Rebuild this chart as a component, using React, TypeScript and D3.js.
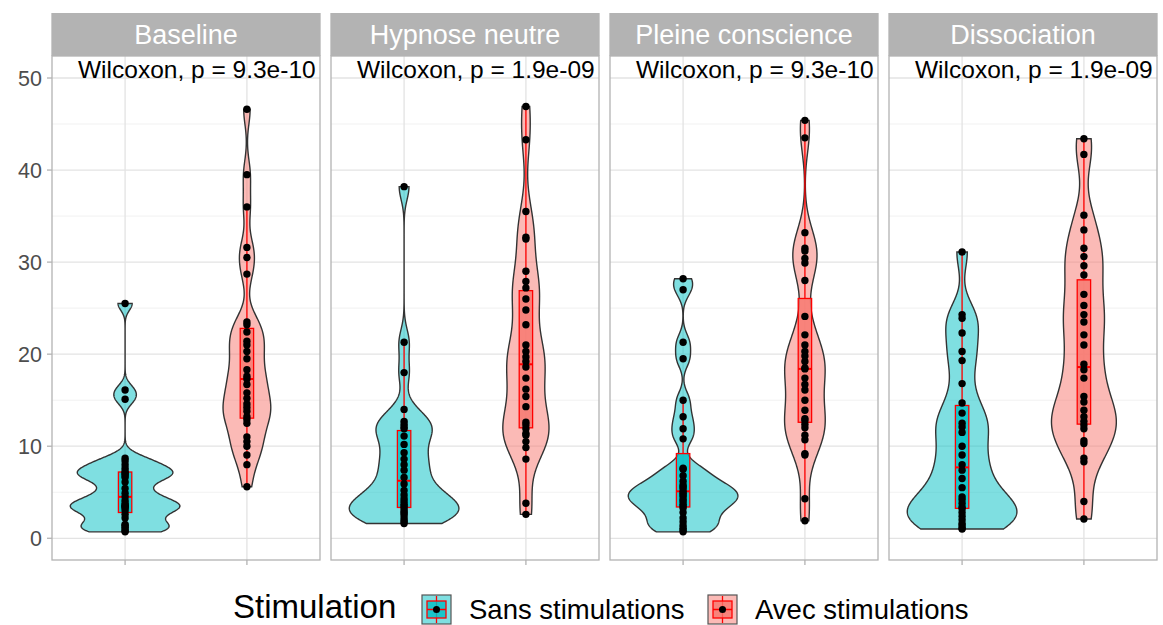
import React from "react";
import * as d3 from "d3";

const facets = ["Baseline", "Hypnose neutre", "Pleine conscience", "Dissociation"];
const groups = ["Sans stimulations", "Avec stimulations"];
const groupColors = ["#00BFC4", "#F8766D"];
const pLabels = [
  "Wilcoxon, p = 9.3e-10",
  "Wilcoxon, p = 1.9e-09",
  "Wilcoxon, p = 9.3e-10",
  "Wilcoxon, p = 1.9e-09",
];
const yTicks = [0, 10, 20, 30, 40, 50];
const yMinor = [5, 15, 25, 35, 45];
const legendTitle = "Stimulation";

const baselineSans = [0.7, 0.8, 1.0, 1.2, 1.4, 1.5, 2.2, 2.6, 3.0, 3.3, 3.4, 3.5, 3.6, 3.8, 4.1, 4.5, 4.9, 5.4, 6.1, 6.6, 6.8, 7.0, 7.1, 7.3, 7.6, 8.0, 8.4, 8.7, 15.1, 16.1, 25.5];
const baselineAvec = [5.6, 8.0, 9.05, 10.0, 10.5, 11.0, 12.5, 12.9, 13.2, 13.8, 14.2, 14.6, 15.2, 15.8, 16.7, 17.3, 17.6, 18.3, 19.5, 20.3, 21.0, 21.4, 22.4, 23.2, 23.5, 28.7, 30.5, 31.6, 36.0, 39.5, 46.6];
const hypnoseSans = [1.6, 1.8, 2.0, 2.3, 2.6, 2.8, 3.0, 3.3, 3.5, 3.7, 4.0, 4.3, 4.7, 5.2, 5.9, 6.6, 7.4, 8.0, 8.6, 9.3, 10.2, 11.1, 11.9, 12.1, 12.4, 12.7, 14.0, 18.0, 21.3, 38.2];
const hypnoseAvec = [2.6, 3.8, 8.6, 9.85, 10.5, 11.2, 11.4, 11.9, 12.3, 12.6, 14.3, 15.4, 16.2, 17.4, 18.6, 19.2, 19.7, 20.3, 21.0, 23.2, 24.8, 26.0, 27.2, 27.9, 29.0, 32.5, 32.7, 35.5, 43.3, 46.9];
const pleineSans = [0.7, 0.9, 1.1, 1.4, 1.8, 2.2, 2.8, 3.3, 3.5, 3.7, 4.0, 4.2, 4.5, 4.7, 4.9, 5.1, 5.4, 5.6, 5.8, 6.2, 6.8, 7.5, 7.6, 10.8, 11.9, 13.2, 15.0, 19.5, 21.3, 27.0, 28.2];
const pleineAvec = [1.9, 4.3, 9.05, 9.2, 10.7, 11.2, 12.0, 12.4, 12.8, 13.0, 13.9, 15.0, 16.1, 16.7, 17.4, 18.4, 18.5, 19.2, 19.8, 20.3, 21.0, 22.1, 24.1, 28.0, 29.9, 30.4, 31.2, 31.5, 33.2, 43.5, 45.4];
const dissocSans = [1.0, 1.1, 1.4, 1.6, 2.0, 2.4, 2.8, 3.2, 3.4, 3.8, 4.2, 4.5, 5.5, 6.5, 7.4, 8.0, 9.05, 10.0, 11.5, 12.1, 12.5, 13.6, 14.7, 16.8, 19.3, 20.3, 22.3, 23.9, 24.3, 31.1];
const dissocAvec = [2.1, 4.0, 8.3, 8.7, 10.3, 10.6, 11.9, 12.3, 12.7, 13.2, 13.9, 14.8, 15.4, 17.4, 18.3, 18.9, 21.0, 22.1, 23.5, 24.3, 25.3, 26.5, 28.6, 29.6, 30.6, 31.5, 33.5, 35.1, 41.7, 43.4];

const facetData = [
  [baselineSans, baselineAvec],
  [hypnoseSans, hypnoseAvec],
  [pleineSans, pleineAvec],
  [dissocSans, dissocAvec],
];

const FONT = "'Liberation Sans', Arial, Helvetica, sans-serif";
const BW_ADJUST = 0.5;

function kde(values: number[], n = 512) {
  const s = values.slice().sort(d3.ascending);
  const sd = d3.deviation(s) as number;
  const iqr = (d3.quantileSorted(s, 0.75) as number) - (d3.quantileSorted(s, 0.25) as number);
  const lo = Math.min(sd, iqr / 1.34);
  const bw = BW_ADJUST * 0.9 * lo * Math.pow(s.length, -0.2);
  const min = s[0];
  const max = s[s.length - 1];
  const k = 1 / (s.length * bw * Math.sqrt(2 * Math.PI));
  return d3.range(n).map((i) => {
    const t = min + ((max - min) * i) / (n - 1);
    let d = 0;
    for (const v of s) {
      const z = (t - v) / bw;
      d += Math.exp(-0.5 * z * z);
    }
    return [t, d * k] as [number, number];
  });
}

function boxStats(values: number[]) {
  const s = values.slice().sort(d3.ascending);
  const q1 = d3.quantileSorted(s, 0.25) as number;
  const med = d3.quantileSorted(s, 0.5) as number;
  const q3 = d3.quantileSorted(s, 0.75) as number;
  const iqr = q3 - q1;
  const lowW = d3.min(s.filter((v) => v >= q1 - 1.5 * iqr)) as number;
  const highW = d3.max(s.filter((v) => v <= q3 + 1.5 * iqr)) as number;
  return { q1, med, q3, lowW, highW };
}

export default function App() {
  const W = 1163;
  const H = 625;
  const stripTop = 13;
  const panelTop = 56;
  const panelBottom = 560;
  const firstLeft = 52;
  const panelW = 268;
  const panelGap = 11;

  const y = d3.scaleLinear().domain([-2.36, 52.39]).range([panelBottom, panelTop]);

  const panels = facets.map((name, fi) => {
    const left = firstLeft + fi * (panelW + panelGap);
    const x = d3.scalePoint<string>().domain(groups).range([left, left + panelW]).padding(0.6);
    const unit = x.step();
    const dens = facetData[fi].map((vals) => kde(vals));
    const maxD = d3.max(dens.flat(), (d) => d[1]) as number;
    return { name, fi, left, x, unit, dens, maxD };
  });

  return (
    <svg
      width={W}
      height={H}
      style={{ position: "absolute", left: 0, top: 0, background: "#fff" }}
      fontFamily={FONT}
    >
      <rect x={0} y={0} width={W} height={H} fill="#fff" />
      {panels.map((p) => {
        const { name, fi, left, x, unit, dens, maxD } = p;
        const halfMax = 0.45 * unit;
        const boxHalf = 0.055 * unit;
        return (
          <g key={name}>
            {yMinor.map((t) => (
              <line key={"mn" + t} x1={left} x2={left + panelW} y1={y(t)} y2={y(t)} stroke="#EDEDED" strokeWidth={0.8} />
            ))}
            {yTicks.map((t) => (
              <line key={"mj" + t} x1={left} x2={left + panelW} y1={y(t)} y2={y(t)} stroke="#E3E3E3" strokeWidth={1.3} />
            ))}
            {groups.map((g) => (
              <line key={"vx" + g} x1={x(g)} x2={x(g)} y1={panelTop} y2={panelBottom} stroke="#E3E3E3" strokeWidth={1.3} />
            ))}
            {groups.map((g, gi) => {
              const cx = x(g) as number;
              const area = d3
                .area<[number, number]>()
                .x0((d) => cx - (d[1] / maxD) * halfMax)
                .x1((d) => cx + (d[1] / maxD) * halfMax)
                .y((d) => y(d[0]));
              return (
                <path
                  key={"v" + g}
                  d={area(dens[gi]) as string}
                  fill={groupColors[gi]}
                  fillOpacity={0.5}
                  stroke="#333333"
                  strokeWidth={1.4}
                />
              );
            })}
            {groups.map((g, gi) => {
              const cx = x(g) as number;
              const b = boxStats(facetData[fi][gi]);
              return (
                <g key={"b" + g}>
                  <line x1={cx} x2={cx} y1={y(b.q3)} y2={y(b.highW)} stroke="#FF0000" strokeWidth={1.3} />
                  <line x1={cx} x2={cx} y1={y(b.q1)} y2={y(b.lowW)} stroke="#FF0000" strokeWidth={1.3} />
                  <rect
                    x={cx - boxHalf}
                    y={y(b.q3)}
                    width={2 * boxHalf}
                    height={y(b.q1) - y(b.q3)}
                    fill={groupColors[gi]}
                    fillOpacity={0.8}
                    stroke="#FF0000"
                    strokeWidth={1.3}
                  />
                  <line x1={cx - boxHalf} x2={cx + boxHalf} y1={y(b.med)} y2={y(b.med)} stroke="#FF0000" strokeWidth={2} />
                </g>
              );
            })}
            {groups.map((g, gi) =>
              facetData[fi][gi].map((v, i) => (
                <circle key={"pt" + g + i} cx={x(g)} cy={y(v)} r={3.7} fill="#000" />
              ))
            )}
            <rect x={left} y={panelTop} width={panelW} height={panelBottom - panelTop} fill="none" stroke="#B3B3B3" strokeWidth={1.3} />
            <rect x={left - 0.65} y={stripTop} width={panelW + 1.3} height={panelTop - stripTop} fill="#B3B3B3" />
            <text x={left + panelW / 2} y={44.2} textAnchor="middle" fill="#FFFFFF" fontSize={27}>
              {name}
            </text>
            {groups.map((g) => (
              <line key={"xt" + g} x1={x(g)} x2={x(g)} y1={panelBottom} y2={panelBottom + 5} stroke="#B3B3B3" strokeWidth={1.3} />
            ))}
            <text x={left + 26} y={78} fill="#000" fontSize={24.5}>
              {pLabels[fi]}
            </text>
          </g>
        );
      })}
      {yTicks.map((t) => (
        <g key={"yt" + t}>
          <line x1={firstLeft - 5} x2={firstLeft} y1={y(t)} y2={y(t)} stroke="#B3B3B3" strokeWidth={1.3} />
          <text x={42} y={y(t) + 7.7} textAnchor="end" fill="#4D4D4D" fontSize={21.5}>
            {t}
          </text>
        </g>
      ))}
      <text x={233} y={617.5} fill="#000" fontSize={33}>
        {legendTitle}
      </text>
      {groups.map((g, gi) => {
        const kx = gi === 0 ? 422 : 708;
        const ky = 595;
        const ks = 29;
        const kc = kx + ks / 2;
        return (
          <g key={"lg" + g}>
            <rect x={kx} y={ky} width={ks} height={ks} fill={groupColors[gi]} fillOpacity={0.5} stroke="#555" strokeWidth={1.2} />
            <line x1={kc} x2={kc} y1={ky + 1} y2={ky + ks - 1} stroke="#FF0000" strokeWidth={1.3} />
            <rect x={kx + 5} y={ky + 6} width={ks - 10} height={ks - 12} fill={groupColors[gi]} fillOpacity={0.8} stroke="#FF0000" strokeWidth={1.3} />
            <line x1={kx + 5} x2={kx + ks - 5} y1={ky + ks / 2} y2={ky + ks / 2} stroke="#FF0000" strokeWidth={1.5} />
            <circle cx={kc} cy={ky + ks / 2} r={3.5} fill="#000" />
            <text x={kx + 47} y={618.5} fill="#000" fontSize={27.5}>
              {g}
            </text>
          </g>
        );
      })}
    </svg>
  );
}
